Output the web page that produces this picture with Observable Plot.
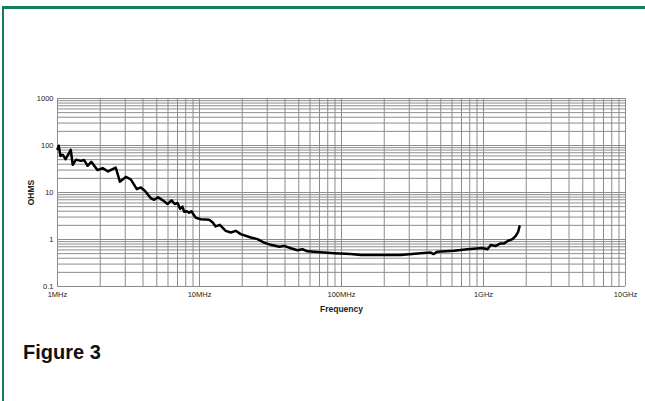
<!DOCTYPE html>
<html>
<head>
<meta charset="utf-8">
<script src="https://cdn.jsdelivr.net/npm/d3@7"></script>
<script src="https://cdn.jsdelivr.net/npm/@observablehq/plot@0.6"></script>
<style>
  html, body { margin: 0; padding: 0; background: #fff; }
  #wrap { position: relative; width: 645px; height: 401px; overflow: hidden; font-family: "Liberation Sans", Arial, sans-serif; }
  #border { position: absolute; left: 2px; top: 6px; right: 0; bottom: 0; border-top: 3px solid #137f57; border-left: 2px solid #137f57; }
  #chart { position: absolute; left: 0; top: 0; }
  #fig { position: absolute; left: 23px; top: 341px; font-size: 20px; font-weight: bold; color: #111; }
  #chart g[aria-label="x-axis label"] text, #chart g[aria-label="y-axis label"] text { font-weight: bold; font-size: 8.5px; }
</style>
</head>
<body>
<div id="wrap">
  <div id="border"></div>
  <div id="chart"></div>
  <div id="fig">Figure 3</div>
</div>
<script>
const freqMHz = [1.0, 1.02, 1.05, 1.09, 1.14, 1.24, 1.28, 1.35, 1.46, 1.54, 1.63, 1.73, 1.91, 2.08, 2.27, 2.57, 2.75, 3.03, 3.28, 3.62, 3.86, 4.12, 4.54, 4.79, 5.11, 5.49, 5.95, 6.35, 6.70, 7.0, 7.30, 7.59, 7.79, 8.14, 8.45, 8.78, 9.07, 9.42, 10.2, 11.7, 12.4, 13.0, 13.9, 15.3, 16.6, 18.0, 19.5, 23.0, 25.6, 28.5, 31.8, 36.4, 39.4, 44.0, 49.0, 53.1, 57.6, 67.8, 88.7, 116, 137, 189, 261, 361, 425, 444, 474, 621, 771, 984, 1067, 1125, 1221, 1310, 1397, 1490, 1600, 1688, 1754, 1794];
const ohms = [84, 99, 60, 63, 51, 81, 39, 50, 47, 49, 37, 45, 30, 33, 28, 34, 17, 21.5, 19, 11.8, 12.8, 10.9, 7.6, 7.0, 7.9, 6.9, 5.7, 6.8, 5.7, 6.0, 4.5, 5.0, 3.9, 4.0, 3.7, 4.0, 3.4, 2.9, 2.7, 2.63, 2.3, 1.9, 2.05, 1.53, 1.41, 1.53, 1.3, 1.1, 1.02, 0.86, 0.77, 0.70, 0.73, 0.65, 0.59, 0.62, 0.56, 0.54, 0.51, 0.49, 0.47, 0.466, 0.47, 0.51, 0.53, 0.49, 0.55, 0.575, 0.62, 0.66, 0.62, 0.76, 0.73, 0.82, 0.82, 0.94, 1.02, 1.2, 1.46, 1.9];
const xTicks = [1, 10, 100, 1000, 10000];
const xTickLabels = ["1MHz", "10MHz", "100MHz", "1GHz", "10GHz"];
const yTicks = [0.1, 1, 10, 100, 1000];
const yTickLabels = ["0.1", "1", "10", "100", "1000"];

const data = freqMHz.map((f, i) => ({f, z: ohms[i]}));
const minor = (lo, hi) => {
  const out = [];
  for (let p = lo; p < hi; p *= 10) for (let d = 1; d < 10; d++) out.push(p * d);
  out.push(hi);
  return out;
};
const xGrid = minor(1, 10000);
const yGrid = minor(0.1, 1000);

const chart = Plot.plot({
  width: 645,
  height: 330,
  marginTop: 98,
  marginBottom: 44,
  marginLeft: 57,
  marginRight: 20,
  style: {fontFamily: "Liberation Sans, Arial, sans-serif", fontSize: "7.5px", color: "#222", background: "transparent"},
  x: {type: "log", domain: [1, 10000]},
  y: {type: "log", domain: [0.1, 1000]},
  marks: [
    Plot.gridX(xGrid, {stroke: "#8c8c8c", strokeOpacity: 1, strokeWidth: 1}),
    Plot.gridY(yGrid, {stroke: "#8c8c8c", strokeOpacity: 1, strokeWidth: 1}),
    Plot.axisX({ticks: xTicks, tickFormat: (d) => xTickLabels[xTicks.indexOf(d)], tickSize: 0, tickPadding: 5, label: "Frequency", labelAnchor: "center", labelArrow: false, labelOffset: 25}),
    Plot.axisY({ticks: yTicks, tickFormat: (d) => yTickLabels[yTicks.indexOf(d)], tickSize: 0, tickPadding: 4, label: "OHMS", labelAnchor: "center", labelArrow: false, labelOffset: 30}),
    Plot.line(data, {x: "f", y: "z", stroke: "#000", strokeWidth: 2.5, strokeLinejoin: "round", strokeLinecap: "round"})
  ]
});
document.getElementById("chart").appendChild(chart);
</script>
</body>
</html>
